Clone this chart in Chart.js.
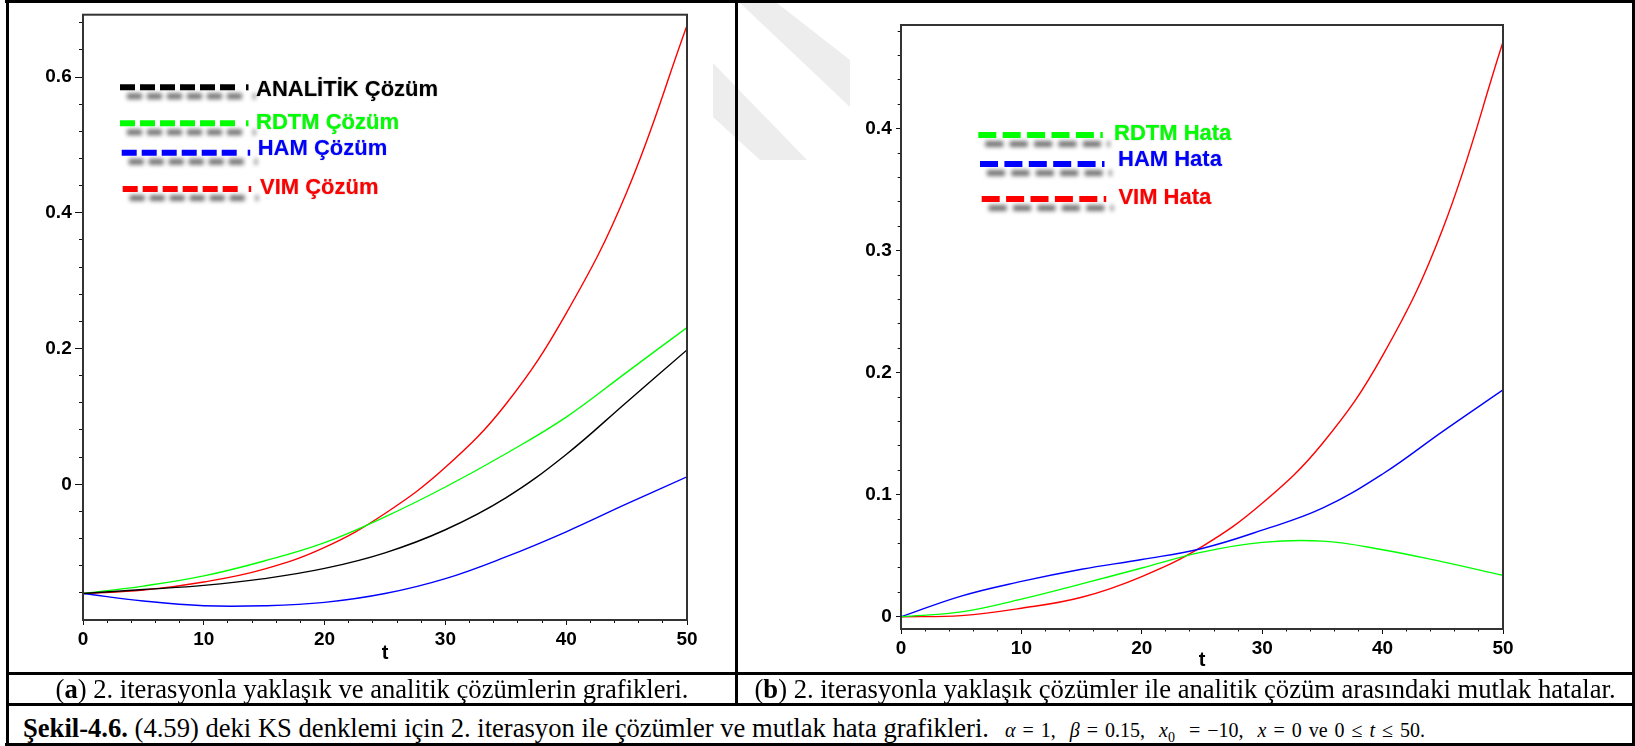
<!DOCTYPE html>
<html>
<head>
<meta charset="utf-8">
<script src="https://cdn.jsdelivr.net/npm/chart.js@4.4.1/dist/chart.umd.min.js"></script>
<style>
  body { margin: 0; background: #fff; }
  #page { position: relative; width: 1635px; height: 746px; overflow: hidden; background: #fff; }
  canvas { position: absolute; }
  .rule { position: absolute; background: #000; }
  .cap { position: absolute; font-family: "Liberation Serif", "Times New Roman", serif; font-size: 26.6px; line-height: 30px; color: #000; white-space: nowrap; }
  .math { position: absolute; font-family: "Liberation Serif", "Times New Roman", serif; font-size: 20px; line-height: 22px; color: #000; white-space: nowrap; word-spacing: 2px; }
</style>
</head>
<body>
<div id="page">
  <!-- faint watermark bands behind the figure -->
  <svg width="1635" height="746" style="position:absolute;left:0;top:0">
    <polygon points="740,3 777,3 850,60 850,107" fill="#ededed"/>
    <polygon points="713,63 807,160 760,160 713,117" fill="#ededed"/>
  </svg>

  <canvas id="chartA" width="736" height="672" style="left:0;top:0"></canvas>
  <canvas id="chartB" width="896" height="672" style="left:737px;top:0"></canvas>

  <!-- table rules -->
  <div class="rule" style="left:5px;top:0;width:1630px;height:3px"></div>
  <div class="rule" style="left:5px;top:743px;width:1630px;height:3px"></div>
  <div class="rule" style="left:6px;top:0;width:3px;height:746px"></div>
  <div class="rule" style="left:1632px;top:0;width:3px;height:746px"></div>
  <div class="rule" style="left:735px;top:0;width:3px;height:706px"></div>
  <div class="rule" style="left:6px;top:672px;width:1628px;height:3px"></div>
  <div class="rule" style="left:6px;top:703px;width:1628px;height:3px"></div>

  <div class="cap" style="left:9px;top:674px;width:726px;text-align:center">(<b>a</b>) 2. iterasyonla yaklaşık ve analitik çözümlerin grafikleri.</div>
  <div class="cap" style="left:738px;top:674px;width:894px;text-align:center">(<b>b</b>) 2. iterasyonla yaklaşık çözümler ile analitik çözüm arasındaki mutlak hatalar.</div>
  <div class="cap" style="left:23px;top:713px"><b>Şekil-4.6.</b> (4.59) deki KS denklemi için 2. iterasyon ile çözümler ve mutlak hata grafikleri.</div>
  <div class="math" style="left:1005px;top:719px"><i>α</i> = 1,&nbsp; <i>β</i> = 0.15,&nbsp; <i>x</i><span style="font-size:14px;position:relative;top:5px">0</span>&nbsp; = −10,&nbsp; <i>x</i> = 0 ve 0 ≤ <i>t</i> ≤ 50.</div>
</div>

<script>
// t values shared by both panels
const tValues = [0, 5, 10, 15, 20, 25, 30, 35, 40, 45, 50];

// panel (a): solutions
const analitikCozum = [-0.161, -0.155, -0.149, -0.139, -0.124, -0.101, -0.067, -0.020, 0.044, 0.121, 0.198];
const rdtmCozum = [-0.161, -0.150, -0.135, -0.113, -0.086, -0.048, -0.004, 0.045, 0.099, 0.165, 0.231];
const hamCozum = [-0.161, -0.172, -0.179, -0.179, -0.174, -0.161, -0.139, -0.107, -0.070, -0.029, 0.011];
const vimCozum = [-0.161, -0.156, -0.144, -0.125, -0.093, -0.043, 0.025, 0.118, 0.252, 0.430, 0.676];

// panel (b): absolute errors
const rdtmHata = [0, 0.004, 0.0145, 0.027, 0.040, 0.053, 0.061, 0.062, 0.055, 0.045, 0.034];
const hamHata = [0, 0.017, 0.029, 0.039, 0.047, 0.056, 0.071, 0.089, 0.117, 0.152, 0.186];
const vimHata = [0, 0.001, 0.007, 0.016, 0.033, 0.0575, 0.093, 0.142, 0.214, 0.318, 0.471];

const tickFont = { family: 'Liberation Sans', weight: 'bold', size: 19 };
const titleFont = { family: 'Liberation Sans', weight: 'bold', size: 20 };

function makeDataset(label, values, color) {
  return {
    label: label,
    data: tValues.map((t, i) => ({ x: t, y: values[i] })),
    borderColor: color,
    backgroundColor: color,
    borderWidth: 1.4,
    pointRadius: 0,
    tension: 0.4,
    fill: false
  };
}

// major + minor tick axes, sizes fixed so the plot box lands where it should
function axisScales(cfg) {
  return {
    x: {
      type: 'linear', axis: 'x', position: 'bottom', weight: 1,
      min: 0, max: 50,
      border: { display: false },
      grid: { drawOnChartArea: false, drawTicks: true, tickLength: 5, tickColor: '#111', tickWidth: 1 },
      ticks: { stepSize: 10, autoSkip: false, maxRotation: 0, padding: cfg.xPad, color: '#000', font: tickFont },
      title: { display: true, text: 't', color: '#000', font: titleFont, padding: { top: 0, bottom: cfg.titlePad } },
      afterFit: s => { s.height = cfg.xHeight; }
    },
    xMinor: {
      type: 'linear', axis: 'x', position: 'bottom', weight: 0,
      min: 0, max: 50,
      border: { display: false },
      grid: { drawOnChartArea: false, drawTicks: true, tickLength: cfg.xMinorLen, tickColor: '#111', tickWidth: 1 },
      ticks: { stepSize: 2, display: false },
      afterFit: s => { s.height = 0; }
    },
    y: {
      type: 'linear', axis: 'y', position: 'left', weight: 1,
      min: cfg.yMin, max: cfg.yMax,
      border: { display: false },
      grid: { drawOnChartArea: false, drawTicks: true, tickLength: cfg.yMajorLen, tickColor: '#111', tickWidth: 1 },
      ticks: {
        stepSize: cfg.yStep, includeBounds: false, autoSkip: false, padding: cfg.yPad, color: '#000', font: tickFont,
        callback: v => v < -1e-9 ? null : (Math.abs(v) < 1e-9 ? '0' : v.toFixed(1))
      },
      afterFit: s => { s.width = cfg.yWidth; }
    },
    yMinor: {
      type: 'linear', axis: 'y', position: 'left', weight: 0,
      min: cfg.yMin, max: cfg.yMax,
      border: { display: false },
      grid: {
        drawOnChartArea: false, drawTicks: true, tickLength: cfg.yMinorLen, tickWidth: 1,
        tickColor: c => (c.tick && c.tick.value < cfg.yMin + 1e-6) ? 'rgba(0,0,0,0)' : '#111'
      },
      ticks: { stepSize: cfg.yMinorStep, includeBounds: false, display: false },
      afterFit: s => { s.width = 0; }
    }
  };
}

// box around the plotting area
const framePlugin = {
  id: 'frame',
  afterDatasetsDraw(chart) {
    const { ctx, chartArea: a } = chart;
    ctx.save();
    ctx.strokeStyle = '#333';
    ctx.lineWidth = 2;
    ctx.strokeRect(a.left, a.top, a.right - a.left, a.bottom - a.top);
    ctx.restore();
  }
};

// Maple style legend: thick dashes with a soft drop shadow
const dashLegend = {
  id: 'dashLegend',
  afterDraw(chart, args, opts) {
    const ctx = chart.ctx;
    chart.data.datasets.forEach((ds, i) => {
      const p = opts.places[i];
      if (!p) return;
      ctx.save();
      ctx.shadowColor = 'rgba(0,0,0,0.55)';
      ctx.shadowOffsetX = 7;
      ctx.shadowOffsetY = 9;
      ctx.shadowBlur = 4;
      ctx.strokeStyle = ds.borderColor;
      ctx.lineWidth = 6;
      ctx.setLineDash(opts.dash);
      ctx.beginPath();
      ctx.moveTo(p.x, p.y);
      ctx.lineTo(p.x + opts.len, p.y);
      ctx.stroke();
      ctx.setLineDash([]);
      ctx.beginPath();
      ctx.moveTo(p.x + opts.len + opts.endGap, p.y);
      ctx.lineTo(p.x + opts.len + opts.endGap + 2.5, p.y);
      ctx.stroke();
      ctx.restore();

      ctx.save();
      ctx.fillStyle = ds.borderColor;
      ctx.font = 'bold 22px "Liberation Sans", Arial, sans-serif';
      ctx.textBaseline = 'middle';
      ctx.shadowColor = 'rgba(0,0,0,0.35)';
      ctx.shadowBlur = 1.5;
      ctx.fillText(ds.label, p.tx, p.ty);
      ctx.restore();
    });
  }
};

new Chart(document.getElementById('chartA'), {
  type: 'line',
  data: {
    datasets: [
      makeDataset('ANALİTİK Çözüm', analitikCozum, '#000000'),
      makeDataset('RDTM Çözüm', rdtmCozum, '#00ff00'),
      makeDataset('HAM Çözüm', hamCozum, '#0000ff'),
      makeDataset('VIM Çözüm', vimCozum, '#ff0000')
    ]
  },
  options: {
    responsive: false,
    maintainAspectRatio: false,
    devicePixelRatio: 1,
    animation: false,
    layout: { padding: { left: 0, top: 13, right: 49, bottom: 0 } },
    plugins: {
      legend: { display: false },
      tooltip: { enabled: false },
      dashLegend: {
        len: 120, dash: [15, 5], endGap: 6,
        places: [
          { x: 120, y: 87.3, tx: 256, ty: 89.5 },
          { x: 120, y: 123.3, tx: 256, ty: 122.5 },
          { x: 121.7, y: 152.7, tx: 257.7, ty: 149 },
          { x: 122.7, y: 189, tx: 260, ty: 188 }
        ]
      }
    },
    scales: axisScales({
      yMin: -0.2, yMax: 0.692, yStep: 0.2, yMinorStep: 0.04,
      yWidth: 83, yMajorLen: 8, yMinorLen: 4, yPad: 3.3,
      xHeight: 52, xMinorLen: 3, xPad: 3.5, titlePad: 7
    })
  },
  plugins: [framePlugin, dashLegend]
});

new Chart(document.getElementById('chartB'), {
  type: 'line',
  data: {
    datasets: [
      makeDataset('RDTM Hata', rdtmHata, '#00ff00'),
      makeDataset('HAM Hata', hamHata, '#0000ff'),
      makeDataset('VIM Hata', vimHata, '#ff0000')
    ]
  },
  options: {
    responsive: false,
    maintainAspectRatio: false,
    devicePixelRatio: 1,
    animation: false,
    layout: { padding: { left: 0, top: 25, right: 130, bottom: 0 } },
    plugins: {
      legend: { display: false },
      tooltip: { enabled: false },
      dashLegend: {
        len: 118, dash: [18, 6.4], endGap: 4,
        places: [
          { x: 241.3, y: 135, tx: 377, ty: 134 },
          { x: 243, y: 164, tx: 381, ty: 159.5 },
          { x: 244.7, y: 199, tx: 381.4, ty: 197.5 }
        ]
      }
    },
    scales: axisScales({
      yMin: -0.01, yMax: 0.485, yStep: 0.1, yMinorStep: 0.02,
      yWidth: 164, yMajorLen: 5, yMinorLen: 3.3, yPad: 4.3,
      xHeight: 43, xMinorLen: 2.5, xPad: 3.5, titlePad: 0
    })
  },
  plugins: [framePlugin, dashLegend]
});
</script>
</body>
</html>
